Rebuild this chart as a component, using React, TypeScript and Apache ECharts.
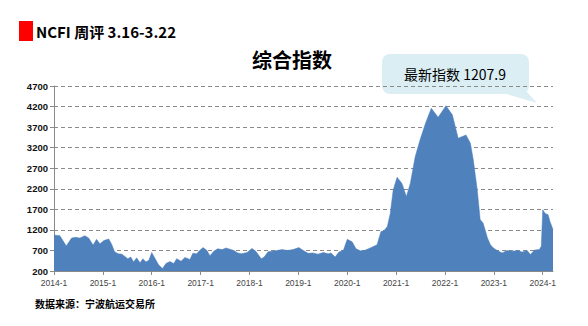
import React, { useEffect, useRef } from "react";
import * as echarts from "echarts";

// decimal year positions of readings
const times: number[] = [
  2014.0, 2014.03, 2014.12, 2014.22, 2014.25, 2014.36, 2014.44, 2014.53, 2014.63, 2014.71,
  2014.8, 2014.87, 2014.94, 2015.02, 2015.12, 2015.18, 2015.24, 2015.31, 2015.39, 2015.51,
  2015.57, 2015.63, 2015.69, 2015.76, 2015.82, 2015.88, 2015.94, 2016.0, 2016.06, 2016.14,
  2016.22, 2016.29, 2016.37, 2016.45, 2016.51, 2016.6, 2016.68, 2016.78, 2016.84, 2016.92,
  2016.98, 2017.05, 2017.13, 2017.19, 2017.27, 2017.35, 2017.44, 2017.52, 2017.6, 2017.68,
  2017.76, 2017.84, 2017.95, 2018.05, 2018.13, 2018.24, 2018.3, 2018.38, 2018.46, 2018.56,
  2018.67, 2018.77, 2018.89, 2019.01, 2019.1, 2019.2, 2019.3, 2019.4, 2019.51, 2019.61,
  2019.67, 2019.75, 2019.83, 2019.92, 2020.0, 2020.1, 2020.18, 2020.27, 2020.35, 2020.47,
  2020.61, 2020.69, 2020.75, 2020.82, 2020.88, 2020.94, 2021.02, 2021.12, 2021.21, 2021.29,
  2021.39, 2021.49, 2021.6, 2021.72, 2021.86, 2022.02, 2022.15, 2022.27, 2022.43, 2022.52,
  2022.58, 2022.66, 2022.72, 2022.78, 2022.87, 2022.93, 2022.99, 2023.07, 2023.17, 2023.27,
  2023.38, 2023.48, 2023.58, 2023.68, 2023.75, 2023.83, 2023.93, 2023.97, 2024.0, 2024.05,
  2024.11, 2024.15, 2024.21,
];

// NCFI composite index values
const values: number[] = [
  1075, 1070, 1060, 870, 810, 1000, 1020, 1000, 1060, 1000,
  830, 970, 860, 940, 980, 850, 670, 620, 610, 500,
  540, 420, 520, 400, 500, 420, 460, 650, 520, 350,
  260, 380, 430, 380, 500, 440, 530, 480, 630, 620,
  700, 770, 700, 570, 680, 740, 720, 760, 730, 700,
  640, 620, 650, 750, 680, 500, 540, 670, 680, 700,
  720, 700, 720, 770, 700, 630, 640, 610, 650, 620,
  640, 540, 660, 700, 970, 910, 740, 690, 700, 760,
  840, 1160, 1180, 1280, 1600, 2170, 2480, 2330, 2010, 2330,
  2980, 3390, 3790, 4160, 3940, 4220, 4000, 3430, 3510, 3310,
  2900, 2175, 1450, 1365, 1000, 840, 760, 700, 640, 700,
  680, 700, 660, 700, 600, 710, 720, 800, 1690, 1600,
  1570, 1400, 1207.9,
];

const yearTicks: number[] = [2014, 2015, 2016, 2017, 2018, 2019, 2020, 2021, 2022, 2023, 2024];
const yBase = 200;
const yTop = 4700;
const yStep = 500;

const headerText = "NCFI 周评 3.16-3.22";
const titleText = "综合指数";
const calloutText = "最新指数 1207.9";
const sourceText = "数据来源：宁波航运交易所";

const CJK = '"Noto Sans CJK SC", "Microsoft YaHei", sans-serif';

export default function App() {
  const ref = useRef<HTMLDivElement>(null);
  useEffect(() => {
    document.body.style.margin = "0";
    if (!ref.current) return;
    const chart = echarts.init(ref.current, null, { renderer: "svg" });
    const data = times.map((t, i) => [t, values[i] - yBase]);
    chart.setOption({
      animation: false,
      grid: { left: 54, top: 86, right: 35, bottom: 55, containLabel: false },
      xAxis: {
        type: "value",
        min: 2014,
        max: times[times.length - 1],
        interval: 1,
        axisLine: { show: true, lineStyle: { color: "#8a8a8a", width: 1 } },
        axisTick: { show: true, length: 4, customValues: yearTicks, lineStyle: { color: "#8a8a8a" } },
        axisLabel: {
          customValues: yearTicks,
          formatter: (v: number) => `${Math.round(v)}-1`,
          color: "#444",
          fontSize: 8.5,
          margin: 7,
          fontFamily: "Liberation Sans, Arial, sans-serif",
        },
        splitLine: { show: false },
      },
      yAxis: {
        type: "value",
        min: 0,
        max: yTop - yBase,
        interval: yStep,
        axisLine: { show: true, lineStyle: { color: "#8a8a8a", width: 1 } },
        axisTick: { show: true, length: 4, lineStyle: { color: "#8a8a8a" } },
        axisLabel: {
          formatter: (v: number) => `${v + yBase}`,
          color: "#111",
          fontSize: 9.5,
          fontWeight: "bold",
          margin: 6,
          fontFamily: "Liberation Sans, Arial, sans-serif",
        },
        splitLine: { show: true, lineStyle: { color: "#8a8a8a", type: [4, 3], width: 1 } },
      },
      series: [
        {
          type: "line",
          data,
          showSymbol: false,
          symbol: "none",
          lineStyle: { width: 0.5, color: "#4f81bd" },
          areaStyle: { color: "#4f81bd", opacity: 1 },
        },
      ],
      graphic: [
        { type: "rect", shape: { x: 19, y: 21, width: 14, height: 20 }, style: { fill: "#ff0000" } },
        {
          type: "text",
          x: 36,
          y: 31,
          style: {
            text: headerText,
            fill: "#000",
            font: `bold 15px ${CJK}`,
            verticalAlign: "middle",
          },
        },
        {
          type: "text",
          x: 292,
          y: 59,
          style: {
            text: titleText,
            fill: "#000",
            font: `bold 20px ${CJK}`,
            align: "center",
            verticalAlign: "middle",
          },
        },
        {
          type: "polygon",
          shape: { points: [[500, 92], [527, 92], [537, 103]] },
          style: { fill: "#dbeef4" },
        },
        {
          type: "rect",
          shape: { x: 382, y: 54, width: 147, height: 40, r: 8 },
          style: { fill: "#dbeef4" },
        },
        {
          type: "text",
          x: 455,
          y: 74,
          style: {
            text: calloutText,
            fill: "#000",
            font: `14px ${CJK}`,
            align: "center",
            verticalAlign: "middle",
          },
        },
        {
          type: "text",
          x: 35,
          y: 303,
          style: {
            text: sourceText,
            fill: "#000",
            font: `bold 10px ${CJK}`,
            verticalAlign: "middle",
          },
        },
      ],
    });
    return () => chart.dispose();
  }, []);
  return <div ref={ref} style={{ width: 588, height: 326 }} />;
}
